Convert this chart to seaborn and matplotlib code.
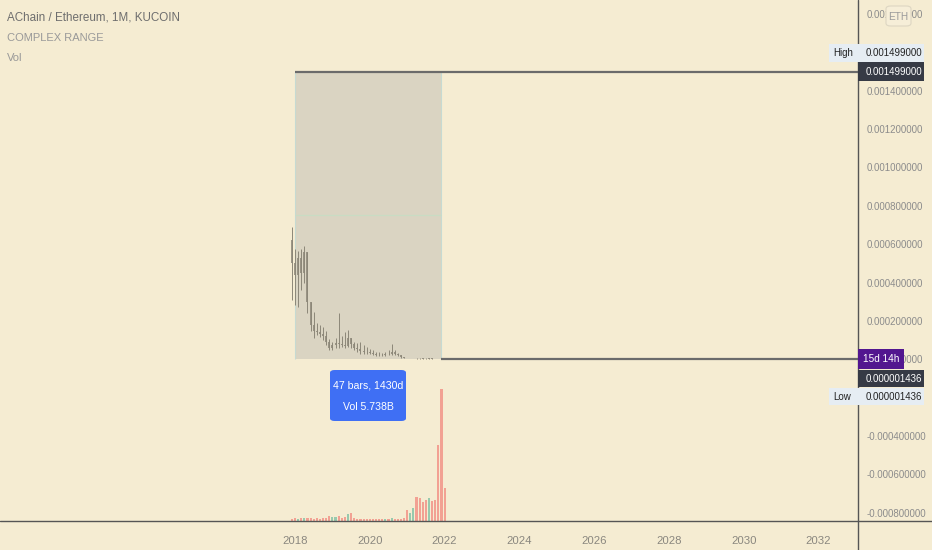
import numpy as np
import pandas as pd
import matplotlib
matplotlib.use("Agg")
import matplotlib.pyplot as plt
from matplotlib import font_manager
from matplotlib.patches import Rectangle, FancyBboxPatch
from matplotlib.lines import Line2D
from matplotlib.ticker import FuncFormatter
import seaborn as sns

#   Monthly bars, Dec 2017 .. Jan 2022 (prices in 1e-6 ETH)
months = pd.date_range("2017-12-01", periods=50, freq="MS")
opens = [620, 500, 440, 530, 450, 560, 300, 180, 150, 140, 130, 120, 90, 60, 75, 85, 80, 75, 70, 110,
         80, 60, 55, 45, 40, 38, 35, 30, 25, 24, 22, 30, 28, 40, 30, 20, 12, 8, 6, 7,
         8, 5, 4.5, 4, 3.8, 4.2, 3.5, 3, 2.2, 1.8]
highs = [690, 575, 565, 575, 590, 560, 300, 245, 190, 180, 170, 150, 105, 90, 112, 240, 120, 140, 155, 112,
         92, 85, 88, 75, 62, 55, 48, 40, 38, 34, 40, 46, 78, 48, 35, 20, 12, 9, 8, 9,
         8.5, 6, 5.5, 5, 5, 4.5, 4, 3.5, 2.6, 2.0]
lows = [310, 285, 275, 360, 400, 240, 150, 110, 125, 118, 100, 75, 48, 48, 58, 60, 65, 60, 65, 58,
        48, 40, 30, 30, 30, 27, 25, 19, 18, 17, 17, 22, 25, 20, 15, 9, 6, 5, 4.5, 5,
        4, 3.5, 3.2, 3, 3, 2.8, 2.5, 1.8, 1.6, 1.436]
closes = [500, 440, 530, 450, 560, 300, 180, 150, 140, 130, 120, 90, 60, 75, 85, 80, 75, 70, 110, 80,
          60, 55, 45, 40, 38, 35, 30, 25, 24, 22, 30, 28, 40, 30, 20, 12, 8, 6, 7, 8,
          5, 4.5, 4, 3.8, 4.2, 3.5, 3, 2.2, 1.8, 1.436]
volume_m = [20, 35, 25, 40, 30, 35, 30, 25, 30, 25, 30, 40, 55, 50, 45, 60, 40, 50, 85, 90,
            35, 25, 20, 22, 25, 20, 18, 22, 20, 18, 20, 25, 30, 25, 22, 25, 30, 130, 95, 155,
            285, 275, 225, 250, 275, 240, 250, 905, 1570, 390]

range_high = 0.001499
range_low = 0.000001436
last_price = 0.000001436
range_start = pd.Timestamp("2018-01-01")
range_end = pd.Timestamp("2021-12-01")

title = "AChain / Ethereum, 1M, KUCOIN"
indicators = ["COMPLEX RANGE", "Vol"]
year_ticks = list(range(2018, 2033, 2))
# 0.0016 and -0.0002 sit fully under the High / Low tags, so they are left out
price_ticks = np.array([-8, -6, -4, 0, 2, 4, 6, 8, 10, 12, 14, 18]) * 1e-4

BG = "#f5ecd2"
CANDLE = "#8c8778"
RED = "#f2a193"
GREEN = "#98c9ad"
LINE = "#6b6b6b"

sns.set_theme(style="white")
avail = {f.name for f in font_manager.fontManager.ttflist}
font = next(f for f in ["Liberation Sans Narrow", "Liberation Sans", "DejaVu Sans"] if f in avail)
plt.rcParams["font.family"] = [font, "DejaVu Sans"]


def frac_year(d):
    return d.year + (d.month - 1) / 12


t = np.array([frac_year(d) for d in months])
o, h, l, c = (np.array(a) * 1e-6 for a in (opens, highs, lows, closes))
direction = np.where(c >= o, "up", "down")

W, H = 932, 550
fig = plt.figure(figsize=(W / 100, H / 100), dpi=100)
fig.patch.set_facecolor(BG)
ax = fig.add_axes([0, 29 / H, 858 / W, 521 / H])
ax.set_facecolor(BG)
for s in ax.spines.values():
    s.set_visible(False)

x0, x1 = 2018 - 295 / 37.4, 2018 + 563 / 37.4

#   Volume overlay
vax = ax.twinx()
vol_df = pd.DataFrame({"t": t, "vol": volume_m, "dir": direction})
sns.barplot(data=vol_df, x="t", y="vol", hue="dir", palette={"up": GREEN, "down": RED},
            native_scale=True, dodge=False, width=0.68, saturation=1, legend=False,
            errorbar=None, ax=vax, linewidth=0)
vax.set_ylim(0, max(volume_m) * 521 / 132)
vax.set_yticks([])
vax.set_xlabel("")
vax.set_ylabel("")
for s in vax.spines.values():
    s.set_visible(False)

#   Range box
rs, re_ = frac_year(range_start), frac_year(range_end)
ax.fill_between([rs, re_], range_low, range_high, color="#dad4c2", zorder=0.5, lw=0)
ax.vlines([rs, re_], range_low, range_high, color="#c6dad2", lw=0.8, zorder=0.6)
ax.hlines((range_high + range_low) / 2, rs, re_, color="#c9dcc3", lw=0.9, zorder=0.6)
ax.hlines(range_high, rs, x1, color=LINE, lw=1.6, zorder=2)
ax.hlines(range_low, re_, x1, color=LINE, lw=1.6, zorder=2)

#   Candles
ax.vlines(t, l, h, color=CANDLE, lw=0.7, zorder=3)
ax.vlines(t, np.minimum(o, c), np.maximum(o, c), color=CANDLE, lw=1.2, zorder=3)

ax.set_xlim(x0, x1)
ax.set_ylim(-842.9e-6, 1872.9e-6)
ax.set_xticks(year_ticks)
ax.set_xticklabels([str(y) for y in year_ticks])
ax.set_yticks(price_ticks)
ax.yaxis.tick_right()
ax.yaxis.set_major_formatter(FuncFormatter(
    lambda v, p: ("-" if v < -1e-12 else "") + f"{abs(v):.9f}"))
ax.tick_params(axis="y", length=0, pad=6, labelsize=7.0, labelcolor="#8c8c8c")
ax.tick_params(axis="x", length=0, pad=11, labelsize=8.2, labelcolor="#8a877f")
ax.grid(False)

#   Pane borders
fig.add_artist(Line2D([0, 1], [29 / H, 29 / H], color="#555555", lw=1))
fig.add_artist(Line2D([858 / W, 858 / W], [0, 1], color="#555555", lw=1))


def box(xa, xb, ya, yb, color, rounded=False, ec="none"):
    if rounded:
        p = FancyBboxPatch((xa / W, 1 - yb / H), (xb - xa) / W, (yb - ya) / H,
                           boxstyle="round,pad=0,rounding_size=0.005", transform=fig.transFigure,
                           fc=color, ec=ec, lw=0.8, zorder=5)
    else:
        p = Rectangle((xa / W, 1 - yb / H), (xb - xa) / W, (yb - ya) / H,
                      transform=fig.transFigure, fc=color, ec=ec, lw=0.8, zorder=5)
    fig.add_artist(p)


def label(x, y, s, color, size=7.0, ha="left", weight="normal"):
    fig.text(x / W, 1 - y / H, s, color=color, fontsize=size, ha=ha, va="center",
             weight=weight, zorder=6)


fmt = lambda v: f"{v:.9f}"

#   Price-scale labels
box(886, 911, 6, 26, "#f6eed8", rounded=True, ec="#ddd6c2")
label(898.5, 16.5, "ETH", "#9a9a9a", size=7.2, ha="center")
box(829, 924, 43.5, 61.5, "#e6edf3")
label(833, 52.5, "High", "#222222")
label(866, 52.5, fmt(range_high), "#222222")
box(858, 924, 62.5, 81, "#363a45")
label(866, 71.7, fmt(range_high), "white")
box(858, 904, 349, 369, "#52168f")
label(881, 359, "15d 14h", "white", size=7.2, ha="center")
box(858, 924, 370, 387, "#363a45")
label(866, 378.5, fmt(last_price), "white")
box(829, 924, 388, 405, "#e6edf3")
label(833, 396.5, "Low", "#222222")
label(866, 396.5, fmt(range_low), "#222222")

#   Range tooltip
box(330, 406, 370, 421, "#3f6ff4", rounded=True)
label(368, 385, "47 bars, 1430d", "white", size=7.6, ha="center")
label(368, 407, "Vol 5.738B", "white", size=7.6, ha="center")

#   Legend text
label(7, 18, title, "#6e6e6e", size=8.4)
label(7, 38, indicators[0], "#999999", size=8.0)
label(7, 58, indicators[1], "#999999", size=8.0)

fig.savefig("out.png", dpi=100, facecolor=BG)
